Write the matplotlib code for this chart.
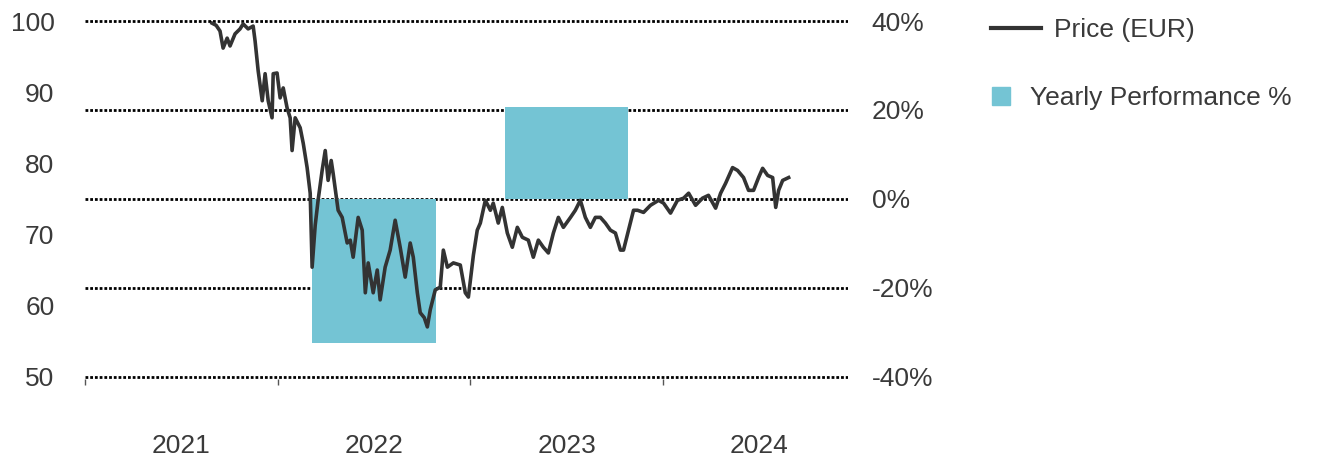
import numpy as np
import matplotlib
matplotlib.use("Agg")
import matplotlib.pyplot as plt
from matplotlib.lines import Line2D

# yearly performance per calendar year (no full year for 2021 / 2024)
years = [2021, 2022, 2023, 2024]
yearlyPerf = [np.nan, -32.4, 20.6, np.nan]

# price history (time in decimal years, price in EUR)
priceTime = [
	2021.660, 2021.681, 2021.701, 2021.717, 2021.738, 2021.753, 2021.779, 2021.805, 2021.821, 2021.847,
	2021.873, 2021.883, 2021.899, 2021.920, 2021.935, 2021.951, 2021.971, 2021.977, 2021.997, 2022.013,
	2022.029, 2022.049, 2022.065, 2022.075, 2022.091, 2022.117, 2022.133, 2022.153, 2022.169, 2022.179,
	2022.195, 2022.210, 2022.231, 2022.247, 2022.262, 2022.278, 2022.288, 2022.314, 2022.335, 2022.361,
	2022.377, 2022.392, 2022.418, 2022.439, 2022.455, 2022.470, 2022.496, 2022.517, 2022.532, 2022.558,
	2022.584, 2022.610, 2022.636, 2022.662, 2022.688, 2022.704, 2022.725, 2022.740, 2022.761, 2022.777,
	2022.792, 2022.818, 2022.844, 2022.860, 2022.881, 2022.912, 2022.948, 2022.974, 2022.990, 2023.016,
	2023.036, 2023.052, 2023.078, 2023.104, 2023.119, 2023.145, 2023.166, 2023.192, 2023.218, 2023.244,
	2023.270, 2023.301, 2023.327, 2023.353, 2023.379, 2023.405, 2023.431, 2023.457, 2023.483, 2023.520,
	2023.545, 2023.571, 2023.597, 2023.623, 2023.649, 2023.675, 2023.701, 2023.727, 2023.753, 2023.779,
	2023.795, 2023.821, 2023.847, 2023.868, 2023.899, 2023.935, 2023.977, 2024.003, 2024.039, 2024.075,
	2024.107, 2024.133, 2024.169, 2024.205, 2024.236, 2024.273, 2024.299, 2024.325, 2024.361, 2024.387,
	2024.418, 2024.444, 2024.470, 2024.496, 2024.517, 2024.543, 2024.569, 2024.585, 2024.600, 2024.621,
	2024.652,
]
priceEur = [
	99.7, 99.4, 98.6, 96.2, 97.6, 96.5, 98.2, 98.9, 99.6, 98.9,
	99.3, 97.2, 93.0, 88.8, 92.6, 88.8, 86.4, 92.6, 92.7, 89.2,
	90.6, 87.8, 86.4, 81.8, 86.4, 85.0, 82.8, 79.4, 75.8, 65.4,
	71.3, 74.8, 79.0, 81.8, 77.6, 80.4, 78.6, 73.4, 72.4, 68.8,
	69.2, 66.8, 72.4, 70.6, 61.8, 66.0, 61.8, 65.0, 60.8, 65.4,
	67.8, 72.0, 68.2, 64.0, 68.8, 66.8, 61.8, 59.0, 58.3, 57.0,
	59.4, 62.2, 62.6, 67.8, 65.4, 66.0, 65.7, 61.8, 61.2, 67.1,
	70.6, 71.6, 74.8, 73.4, 74.4, 71.6, 73.8, 70.2, 68.2, 71.0,
	69.6, 69.2, 66.8, 69.2, 68.2, 67.4, 70.2, 72.4, 71.0, 72.4,
	73.4, 74.8, 72.4, 71.0, 72.4, 72.4, 71.6, 70.6, 70.2, 67.8,
	67.8, 70.6, 73.4, 73.4, 73.1, 74.1, 74.8, 74.4, 73.0, 74.8,
	75.1, 75.8, 74.1, 75.1, 75.5, 73.7, 75.8, 77.2, 79.4, 79.0,
	78.0, 76.2, 76.2, 78.0, 79.3, 78.3, 78.0, 73.8, 76.2, 77.6,
	78.0,
]

priceTicks = [50, 60, 70, 80, 90, 100]
perfTicks = [-40, -20, 0, 20, 40]

lineColor = "#333333"
barColor = "#74C4D4"
textColor = "#3a3a3a"


def generateImage(imageName):
	plt.rcParams["font.family"] = ["Liberation Sans", "DejaVu Sans"]
	plt.rcParams["font.size"] = 19

	fig = plt.figure(figsize=(13.19, 4.62), dpi=100)
	ax = fig.add_axes([0.0644, 0.180, 0.5785, 0.779])
	# price line on its own axis (left side), drawn above the bars
	ax2 = ax.twinx()

	# bars on the percentage axis (right side)
	barX = [y + 0.5 for y in years]
	ax.bar(barX, yearlyPerf, width=0.64, color=barColor, zorder=2)
	# small margin so the outer dotted lines are not cut in half
	margin = 0.006
	ax.set_ylim(-40 - 80 * margin, 40 + 80 * margin)
	ax.set_yticks(perfTicks)
	ax.set_yticklabels(["{}%".format(p) for p in perfTicks])
	ax.set_axisbelow(True)
	ax.grid(axis="y", color="black", linestyle=(0, (1.0, 0.7)), linewidth=2.0)

	ax.set_xlim(2021, 2024.96)
	ax.set_xticks(years)
	ax.set_xticklabels([])
	ax.set_xticks([y + 0.5 for y in years], minor=True)
	ax.set_xticklabels([str(y) for y in years], minor=True)
	ax.tick_params(axis="x", which="major", length=4, width=1, color="#555555")
	ax.tick_params(axis="x", which="minor", length=0, pad=40, labelcolor=textColor)
	for s in ax.spines.values():
		s.set_visible(False)

	ax2.plot(priceTime, priceEur, color=lineColor, linewidth=2.6, clip_on=False, zorder=3)
	ax2.set_ylim(50 - 50 * margin, 100 + 50 * margin)
	ax2.set_yticks(priceTicks)
	for s in ax2.spines.values():
		s.set_visible(False)

	# twinx moves ticks around, so set the sides afterwards
	ax.yaxis.tick_right()
	ax.tick_params(axis="y", length=0, pad=17, labelcolor=textColor)
	ax2.yaxis.tick_left()
	ax2.tick_params(axis="y", length=0, pad=22, labelcolor=textColor)

	lineHandle = Line2D([], [], color=lineColor, linewidth=3)
	fig.legend([lineHandle], ["Price (EUR)"], loc="center left", bbox_to_anchor=(0.751, 0.935),
		frameon=False, handlelength=1.9, handletextpad=0.5, borderpad=0, borderaxespad=0,
		labelcolor=textColor)
	barHandle = Line2D([], [], color=barColor, marker="s", linestyle="none", markersize=13)
	fig.legend([barHandle], ["Yearly Performance %"], loc="center left", bbox_to_anchor=(0.752, 0.787),
		frameon=False, handlelength=0.7, handletextpad=0.75, borderpad=0, borderaxespad=0,
		labelcolor=textColor)

	fig.savefig(imageName, dpi=100)
	return


def main():
	generateImage("out.png")


main()
